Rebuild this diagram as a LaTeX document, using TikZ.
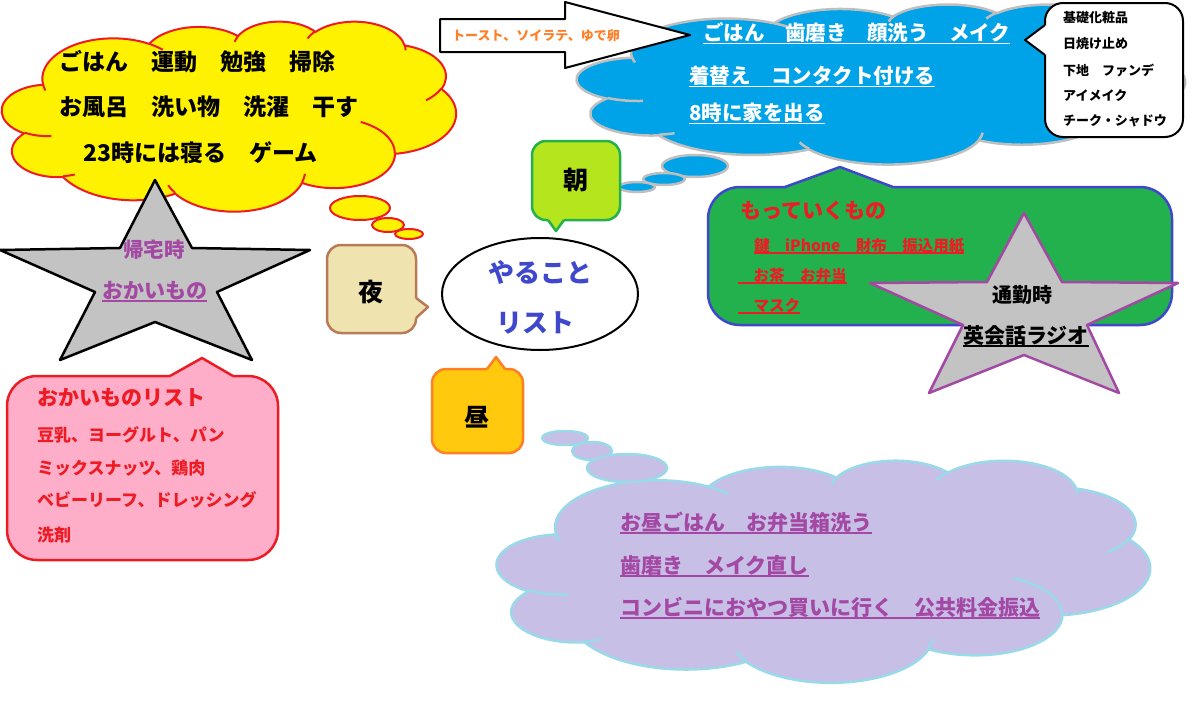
\documentclass[tikz,border=0pt]{standalone}
\usepackage{fontspec}
\setmainfont{Noto Sans CJK JP}
\definecolor{cyel}{HTML}{FFF200}
\definecolor{cred}{HTML}{ED1C24}
\definecolor{cblue}{HTML}{00A2E8}
\definecolor{cgray}{HTML}{C3C3C3}
\definecolor{cbgray}{HTML}{BFBFBF}
\definecolor{cgreen}{HTML}{22B14C}
\definecolor{cind}{HTML}{3F48CC}
\definecolor{cpur}{HTML}{A349A4}
\definecolor{clime}{HTML}{B5E61D}
\definecolor{ctan}{HTML}{EFE4B0}
\definecolor{cbrown}{HTML}{B97A57}
\definecolor{cgold}{HTML}{FFC90E}
\definecolor{corange}{HTML}{FF7F27}
\definecolor{cpink}{HTML}{FFAEC9}
\definecolor{clav}{HTML}{C8BFE7}
\definecolor{cturq}{HTML}{99D9EA}
\newcommand\fs[1]{\fontsize{#1pt}{#1pt}\selectfont}
\newsavebox\ulbox
\newcommand\ul[1]{\sbox\ulbox{#1}\rlap{\rule[-0.17em]{\wd\ulbox}{0.085em}}\usebox\ulbox}
% DrawingML cloud geometry: visual angle -> parametric angle
\newcommand\cloudcalc[5]{%
  \pgfmathsetmacro\cctS{atan2((#2)*sin(#4),(#3)*cos(#4))}%
  \pgfmathsetmacro\cctE{atan2((#2)*sin((#4)+(#5)),(#3)*cos((#4)+(#5)))}%
  \pgfmathsetmacro\cctD{\cctE-\cctS}%
  \pgfmathsetmacro\cctD{(#5)>0 ? (\cctD<0 ? \cctD+360 : \cctD) : (\cctD>0 ? \cctD-360 : \cctD)}%
  \expandafter\xdef\csname ccS#1\endcsname{\cctS}%
  \expandafter\xdef\csname ccD#1\endcsname{\cctD}%
}
\cloudcalc{a}{67.53}{91.90}{-190.4875}{123.7805}
\cloudcalc{b}{53.33}{72.67}{-144.1024}{89.9452}
\cloudcalc{c}{43.65}{59.45}{-145.8079}{99.7230}
\cloudcalc{d}{48.57}{65.95}{-130.9861}{117.2417}
\cloudcalc{e}{53.33}{72.73}{-78.7089}{109.0269}
\cloudcalc{f}{67.75}{92.20}{-46.2673}{130.2690}
\cloudcalc{g}{57.85}{78.67}{0.6250}{114.0333}
\cloudcalc{h}{67.52}{92.15}{22.4516}{115.1726}
\cloudcalc{i}{77.20}{105.43}{66.2426}{75.7110}
\cloudcalc{j}{43.60}{59.18}{-274.9421}{146.7356}
\cloudcalc{k}{43.45}{59.45}{-246.8285}{152.5189}
\cloudcalc{A}{43.45}{59.45}{86.742}{26.4295}
\cloudcalc{B}{43.60}{59.18}{73.6105}{11.4475}
\cloudcalc{C}{67.52}{92.15}{137.6242}{14.0811}
\cloudcalc{D}{67.52}{92.15}{6.4533}{15.9984}
\cloudcalc{E}{57.85}{78.67}{-70.2924}{70.9174}
\cloudcalc{F}{53.33}{72.73}{30.3180}{27.7515}
\cloudcalc{G}{48.57}{65.95}{-13.7443}{14.8589}
\cloudcalc{H}{48.57}{65.95}{-149.1815}{18.1954}
\cloudcalc{I}{43.65}{59.45}{-163.4943}{17.6864}
\cloudcalc{J}{67.53}{91.90}{-66.7070}{12.3194}
\cloudcalc{K}{67.53}{91.90}{157.6544}{11.8582}
\newcommand\pptcloud[6]{%
\begin{scope}[shift={(#1,#2)},xscale=#3/432,yscale=#4/432]
\path[#5] (39,143.7)
 arc[x radius=67.53,y radius=91.90,start angle=\ccSa,delta angle=\ccDa]
 arc[x radius=53.33,y radius=72.67,start angle=\ccSb,delta angle=\ccDb]
 arc[x radius=43.65,y radius=59.45,start angle=\ccSc,delta angle=\ccDc]
 arc[x radius=48.57,y radius=65.95,start angle=\ccSd,delta angle=\ccDd]
 arc[x radius=53.33,y radius=72.73,start angle=\ccSe,delta angle=\ccDe]
 arc[x radius=67.75,y radius=92.20,start angle=\ccSf,delta angle=\ccDf]
 arc[x radius=57.85,y radius=78.67,start angle=\ccSg,delta angle=\ccDg]
 arc[x radius=67.52,y radius=92.15,start angle=\ccSh,delta angle=\ccDh]
 arc[x radius=77.20,y radius=105.43,start angle=\ccSi,delta angle=\ccDi]
 arc[x radius=43.60,y radius=59.18,start angle=\ccSj,delta angle=\ccDj]
 arc[x radius=43.45,y radius=59.45,start angle=\ccSk,delta angle=\ccDk]
 -- cycle;
\path[#6]
 (46.93,261.77) arc[x radius=43.45,y radius=59.45,start angle=\ccSA,delta angle=\ccDA]
 (69.28,348.99) arc[x radius=43.60,y radius=59.18,start angle=\ccSB,delta angle=\ccDB]
 (164.78,390.90) arc[x radius=67.52,y radius=92.15,start angle=\ccSC,delta angle=\ccDC]
 (288.27,347.51) arc[x radius=67.52,y radius=92.15,start angle=\ccSD,delta angle=\ccDD]
 (341.29,229.54) arc[x radius=57.85,y radius=78.67,start angle=\ccSE,delta angle=\ccDE]
 (417.98,153.54) arc[x radius=53.33,y radius=72.73,start angle=\ccSF,delta angle=\ccDF]
 (383.24,54.26) arc[x radius=48.57,y radius=65.95,start angle=\ccSG,delta angle=\ccDG]
 (290.78,39.52) arc[x radius=48.57,y radius=65.95,start angle=\ccSH,delta angle=\ccDH]
 (221.41,47.20) arc[x radius=43.65,y radius=59.45,start angle=\ccSI,delta angle=\ccDI]
 (140.00,51.92) arc[x radius=67.53,y radius=91.90,start angle=\ccSJ,delta angle=\ccDJ]
 (41.27,157.89) arc[x radius=67.53,y radius=91.90,start angle=\ccSK,delta angle=\ccDK];
\end{scope}}
\tikzset{
  txt/.style={inner sep=0pt,anchor=base west},
  ctxt/.style={inner sep=0pt,anchor=center},
  btxt/.style={inner sep=0pt,anchor=base},
  yelcloud/.style={fill=cyel,draw=cred,line width=2pt},
  yelcrease/.style={draw=cred,line width=2pt},
  bluecloud/.style={fill=cblue,draw=cbgray,line width=2.5pt},
  bluecrease/.style={draw=cbgray,line width=2.5pt},
  purcloud/.style={fill=clav,draw=cturq,line width=2.5pt},
  purcrease/.style={draw=cturq,line width=2.5pt},
  outl/.style={line width=2.5pt},
}
\begin{document}
\begin{tikzpicture}[x=1pt,y=-1pt,line join=round]
\useasboundingbox (0,0) rectangle (1200,720);
\fill[white] (0,0) rectangle (1200,720);

% ---- yellow cloud (night)
\pptcloud{2}{21}{454}{190}{yelcloud}{yelcrease}
\path[yelcloud] (360,208) ellipse[x radius=30,y radius=12];
\path[yelcloud] (388,225) ellipse[x radius=16,y radius=7];
\path[yelcloud] (409,234) ellipse[x radius=14,y radius=5];
\node[txt,font=\fs{23}\bfseries] (y1) at (59,70.7) {ごはん　運動　勉強　掃除};
\node[txt,font=\fs{23}\bfseries] (y2) at (59,115.7) {お風呂　洗い物　洗濯　干す};
\node[txt,font=\fs{23}\bfseries] (y3) at (83,161.7) {23時には寝る　ゲーム};

% ---- star 1
\path[fill=cgray,draw=black,outl] (155,180) -- (192,248) -- (310,250) -- (217,292) -- (252,360)
  -- (155,322) -- (60,360) -- (95,292) -- (0,250) -- (120,248) -- cycle;
\node[ctxt,font=\fs{20.5}\bfseries,text=cpur] (s1a) at (154,250) {帰宅時};
\node[btxt,font=\fs{21}\bfseries,text=cpur] (s1b) at (154.5,298) {\ul{おかいもの}};

% ---- pink callout
\path[fill=cpink,draw=cred,outl,rounded corners=30] (7,376) rectangle (278,560);
\fill[cpink] (170,376) -- (202,358) -- (233,376) -- (231,380) -- (172,380) -- cycle;
\draw[cred,outl] (170,376) -- (202,358) -- (233,376);
\node[txt,font=\fs{21}\bfseries,text=cred] (p0) at (37,405) {おかいものリスト};
\node[txt,font=\fs{17}\bfseries,text=cred] (p1) at (37,441.5) {豆乳、ヨーグルト、パン};
\node[txt,font=\fs{17}\bfseries,text=cred] (p2) at (37,474.5) {ミックスナッツ、鶏肉};
\node[txt,font=\fs{17}\bfseries,text=cred] (p3) at (37,506.5) {ベビーリーフ、ドレッシング};
\node[txt,font=\fs{17}\bfseries,text=cred] (p4) at (37,541.5) {洗剤};

% ---- night callout
\path[fill=ctan,draw=cbrown,outl,rounded corners=14] (327,245) rectangle (416,333);
\fill[ctan] (416,298) -- (428,307) -- (416,318) -- (412,316) -- (412,300) -- cycle;
\draw[cbrown,outl] (416,298) -- (428,307) -- (416,318);
\node[ctxt,font=\fs{25}\bfseries] (yoru) at (371,292) {夜};

% ---- centre ellipse
\draw[line width=2pt,fill=white] (540,294) ellipse[x radius=98,y radius=56];
\node[ctxt,font=\fs{26}\bfseries,text=cind] (c1) at (540,272) {やること};
\node[ctxt,font=\fs{26}\bfseries,text=cind] (c2) at (535,323) {リスト};

% ---- noon callout
\path[fill=cgold,draw=corange,outl,rounded corners=14] (432,369) rectangle (523,453);
\fill[cgold] (487,369) -- (496,357) -- (505,369) -- (503,373) -- (489,373) -- cycle;
\draw[corange,outl] (487,369) -- (496,357) -- (505,369);
\node[ctxt,font=\fs{25}\bfseries] (hiru) at (477,417) {昼};

% ---- purple cloud (noon)
\pptcloud{497}{460}{653}{222}{purcloud}{purcrease}
\path[purcloud] (565,438) ellipse[x radius=23,y radius=7];
\path[purcloud] (592,451) ellipse[x radius=20,y radius=9];
\path[purcloud] (627,468) ellipse[x radius=40,y radius=14];
\node[txt,font=\fs{21}\bfseries,text=cpur] (n1) at (620,530) {\ul{お昼ごはん　お弁当箱洗う}};
\node[txt,font=\fs{21}\bfseries,text=cpur] (n2) at (620,573) {\ul{歯磨き　メイク直し}};
\node[txt,font=\fs{21}\bfseries,text=cpur] (n3) at (620,615) {\ul{コンビニにおやつ買いに行く　公共料金振込}};

% ---- blue cloud (morning)
\pptcloud{577}{4}{608}{160}{bluecloud}{bluecrease}
\path[bluecloud] (695,166) ellipse[x radius=33,y radius=11];
\path[bluecloud] (664,179) ellipse[x radius=21,y radius=6];
\path[bluecloud] (637,187) ellipse[x radius=18,y radius=5];
\node[txt,font=\fs{20.5}\bfseries,text=white] (m1) at (703,40.8) {\ul{ごはん　歯磨き　顔洗う　メイク}};
\node[txt,font=\fs{20.5}\bfseries,text=white] (m2) at (689,83.8) {\ul{着替え　コンタクト付ける}};
\node[txt,font=\fs{20.5}\bfseries,text=white] (m3) at (689,120.8) {\ul{8時に家を出る}};

% ---- arrow
\path[fill=white,draw=black,line width=2pt] (440,19) -- (565,19) -- (565,2) -- (690,35)
  -- (565,68) -- (565,52) -- (440,52) -- cycle;
\node[txt,font=\fs{13}\bfseries,text=corange] (ar) at (452,40) {トースト、ソイラテ、ゆで卵};

% ---- make-up callout
\path[fill=white,draw=black,line width=2pt,rounded corners=18] (1045,3) rectangle (1183,137);
\fill[white] (1045,25) -- (1025,40) -- (1045,55) -- (1049,53) -- (1049,27) -- cycle;
\draw[black,line width=2pt] (1045,25) -- (1025,40) -- (1045,55);
\node[txt,font=\fs{13}\bfseries] (k1) at (1063,22) {基礎化粧品};
\node[txt,font=\fs{13}\bfseries] (k2) at (1063,48) {日焼け止め};
\node[txt,font=\fs{13}\bfseries] (k3) at (1063,75) {下地　ファンデ};
\node[txt,font=\fs{13}\bfseries] (k4) at (1063,100) {アイメイク};
\node[txt,font=\fs{13}\bfseries] (k5) at (1063,125) {チーク・シャドウ};

% ---- morning callout
\path[fill=clime,draw=cgreen,outl,rounded corners=14] (532,141) rectangle (620,220);
\fill[clime] (548,220) -- (556,231) -- (564,220) -- (562,216) -- (550,216) -- cycle;
\draw[cgreen,outl] (548,220) -- (556,231) -- (564,220);
\node[ctxt,font=\fs{25}\bfseries] (asa) at (576,180) {朝};

% ---- green callout
\path[fill=cgreen,draw=cind,outl,rounded corners=32] (708,187) rectangle (1172,325);
\fill[cgreen] (785,187) -- (840,167) -- (893,187) -- (891,191) -- (787,191) -- cycle;
\draw[cind,outl] (785,187) -- (840,167) -- (893,187);
\node[txt,font=\fs{21}\bfseries,text=cred] (g0) at (740,218) {もっていくもの};
\node[txt,font=\fs{15.5}\bfseries,text=cred] (g1) at (754,251) {\ul{鍵　iPhone　財布　振込用紙}};
\node[txt,font=\fs{15.5}\bfseries,text=cred] (g2) at (738,281) {\ul{　お茶　お弁当}};
\node[txt,font=\fs{15.5}\bfseries,text=cred] (g3) at (738,311) {\ul{　マスク}};

% ---- star 2
\path[fill=cgray,draw=cpur,outl] (1024,213) -- (1062,282) -- (1178,283) -- (1087,325) -- (1119,393)
  -- (1024,355) -- (929,393) -- (963,325) -- (870,283) -- (987,282) -- cycle;
\node[ctxt,font=\fs{20}\bfseries] (s2a) at (1022,295) {通勤時};
\node[btxt,font=\fs{21}\bfseries] (s2b) at (1026,343) {\ul{英会話ラジオ}};
\end{tikzpicture}
\end{document}
